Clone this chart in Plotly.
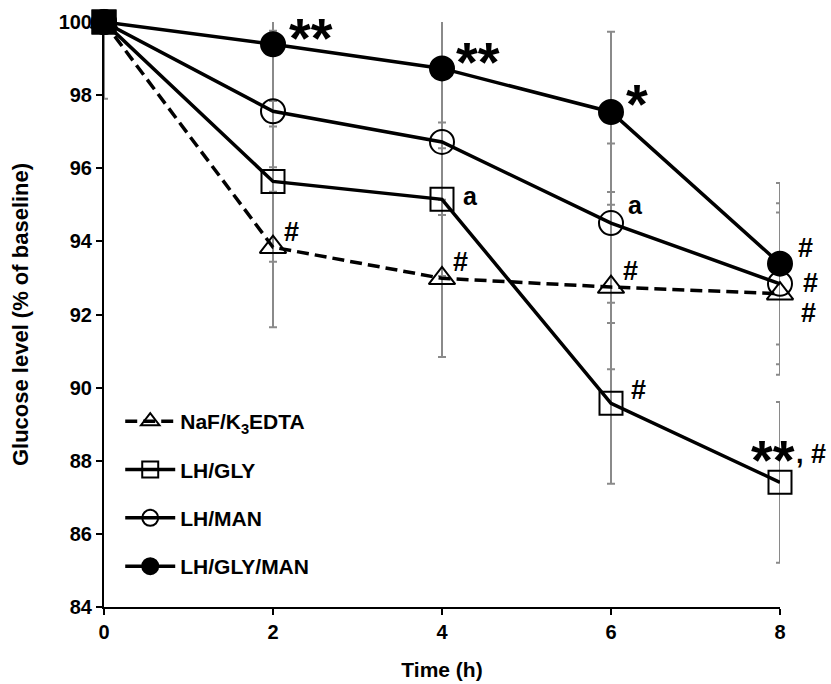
import plotly.graph_objects as go

# ---------------- data ----------------
TIME = [0, 2, 4, 6, 8]
X_TICKS = [0, 2, 4, 6, 8]
Y_TICKS = [84, 86, 88, 90, 92, 94, 96, 98, 100]

NAF_K3EDTA = [100, 93.84, 92.99, 92.75, 92.57]
LH_GLY = [100, 95.64, 95.15, 89.57, 87.41]
LH_MAN = [100, 97.56, 96.72, 94.50, 92.84]
LH_GLY_MAN = [100, 99.39, 98.73, 97.54, 93.39]

NAF_K3EDTA_SD = [0, 2.19, 2.15, 2.25, 2.22]
LH_GLY_SD = [0, 2.20, 2.10, 2.20, 2.20]
LH_MAN_SD = [0, 2.20, 2.00, 2.18, 2.20]
LH_GLY_MAN_SD = [2.10, 2.25, 2.18, 2.19, 2.21]

NAMES = ["NaF/K<sub>3</sub>EDTA", "LH/GLY", "LH/MAN", "LH/GLY/MAN"]

# ---------------- styles ----------------
FONT = "Liberation Sans, Arial, sans-serif"
series = [
    dict(name=NAMES[0], y=NAF_K3EDTA, sd=NAF_K3EDTA_SD, symbol="triangle-up-open", dash="12px,6px", size=23),
    dict(name=NAMES[1], y=LH_GLY, sd=LH_GLY_SD, symbol="square-open", dash="solid", size=23),
    dict(name=NAMES[2], y=LH_MAN, sd=LH_MAN_SD, symbol="circle-open", dash="solid", size=24),
    dict(name=NAMES[3], y=LH_GLY_MAN, sd=LH_GLY_MAN_SD, symbol="circle", dash="solid", size=24),
]

fig = go.Figure()

# error bars (clipped to plot area)
for s in series:
    fig.add_trace(go.Scatter(
        x=TIME, y=s["y"], mode="markers",
        marker=dict(size=1, color="rgba(0,0,0,0)"),
        error_y=dict(type="data", array=s["sd"], visible=True,
                     color="#8a8a8a", thickness=2, width=4),
        showlegend=False, hoverinfo="skip",
    ))

# lines + markers
for i, s in enumerate(series):
    fig.add_trace(go.Scatter(
        x=TIME, y=s["y"], mode="lines+markers", name=f"<b>{s['name']}</b>",
        line=dict(color="black", width=3.5, dash=s["dash"]),
        marker=dict(symbol=s["symbol"], size=s["size"],
                    color="black", line=dict(color="black", width=2)),
        cliponaxis=False,
        legendgroup=f"g{i}",
    ))

# baseline point drawn as a filled square (overlapping markers at t=0)
fig.add_trace(go.Scatter(
    x=TIME[:1], y=LH_GLY[:1], mode="markers",
    marker=dict(symbol="square", size=25, color="black"),
    cliponaxis=False, showlegend=False, hoverinfo="skip",
))

# significance annotations: (series index, point index, text, xshift, yshift, size)
ANN = [
    (3, 1, "**", 38, 7, 56),
    (3, 2, "**", 36, 7, 56),
    (3, 3, "*", 26, 8, 56),
    (3, 4, "#", 25, 16, 27),
    (2, 4, "#", 30, 1, 27),
    (0, 4, "#", 28, -19, 27),
    (0, 1, "#", 18, 15, 27),
    (0, 2, "#", 18, 16, 27),
    (0, 3, "#", 19, 16, 27),
    (1, 2, "a", 28, 3, 25),
    (1, 3, "#", 27, 13, 27),
    (2, 3, "a", 24, 18, 25),
    (1, 4, "**", -7, 23, 56),
    (1, 4, ", #", 31, 28, 27),
]
for si, pi, txt, dx, dy, fs in ANN:
    fig.add_annotation(x=TIME[pi], y=series[si]["y"][pi], text=f"<b>{txt}</b>",
                       showarrow=False, xshift=dx, yshift=dy,
                       font=dict(family=FONT, size=fs, color="black"))

fig.update_layout(
    width=831, height=684,
    margin=dict(l=104, r=51, t=22, b=77, autoexpand=False),
    paper_bgcolor="white", plot_bgcolor="white",
    font=dict(family=FONT, color="black"),
    showlegend=True,
    legend=dict(x=0.024, y=0.352, xanchor="left", yanchor="top",
                bgcolor="rgba(0,0,0,0)", font=dict(family=FONT, size=21, color="black"),
                itemwidth=50, tracegroupgap=18),
    xaxis=dict(range=[0, 8], tickvals=X_TICKS, ticktext=[f"<b>{v}</b>" for v in X_TICKS],
               showline=True, linecolor="black", linewidth=2, automargin=False,
               ticks="outside", ticklen=6, tickwidth=2, tickcolor="black",
               showgrid=False, zeroline=False,
               tickfont=dict(family=FONT, size=20, color="black"),
               title=dict(text="<b>Time (h)</b>", font=dict(family=FONT, size=21, color="black"), standoff=20)),
    yaxis=dict(range=[84, 100], tickvals=Y_TICKS, ticktext=[f"<b>{v}</b>" for v in Y_TICKS],
               showline=True, linecolor="black", linewidth=2, automargin=False,
               ticks="outside", ticklen=6, tickwidth=2, tickcolor="black",
               showgrid=False, zeroline=False,
               tickfont=dict(family=FONT, size=20, color="black"),
               title=dict(text="<b>Glucose level (% of baseline)</b>",
                          font=dict(family=FONT, size=22, color="black"), standoff=24)),
)

# remove the default 8px page margin so the figure fills the window exactly
fig.write_html("out.html", config={"displayModeBar": False},
               post_script="document.body.style.margin='0';")
